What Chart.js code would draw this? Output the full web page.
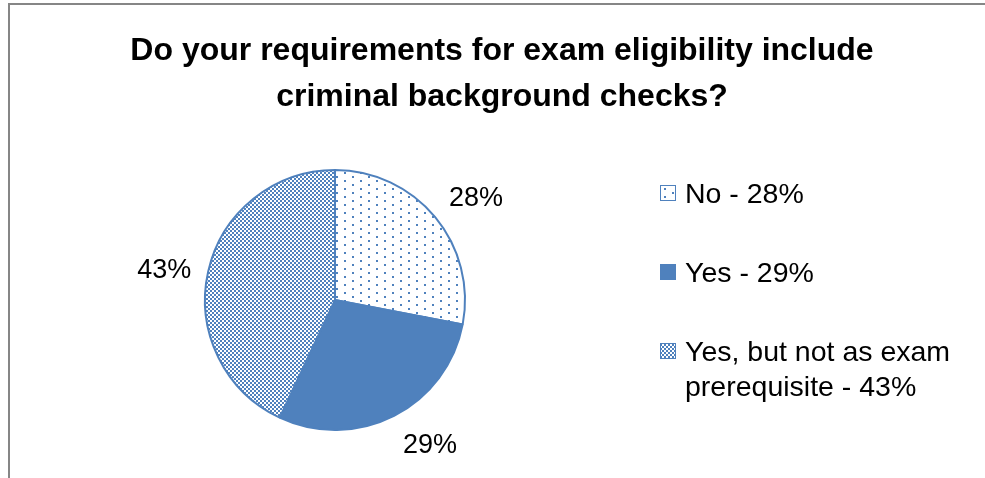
<!DOCTYPE html>
<html>
<head>
<meta charset="utf-8">
<script src="https://cdn.jsdelivr.net/npm/chart.js@4/dist/chart.umd.min.js"></script>
<style>
  html, body { margin: 0; padding: 0; background: #ffffff; }
  #wrap { width: 985px; height: 478px; position: relative; }
</style>
</head>
<body>
<div id="wrap"><canvas id="pie" width="985" height="478"></canvas></div>
<script>
// Survey answers and their shares (percent)
const categories = ['No', 'Yes', 'Yes, but not as exam prerequisite'];
const shares = [28, 29, 43];
const legendLines = [['No - 28%'], ['Yes - 29%'], ['Yes, but not as exam', 'prerequisite - 43%']];
const titleLines = ['Do your requirements for exam eligibility include', 'criminal background checks?'];

const BLUE = '#4f81bd';
const FONT = '"Liberation Sans", Arial, sans-serif';

// Fill patterns: sparse dots, solid, fine checker
function makePattern(kind) {
  const c = document.createElement('canvas');
  const x = c.getContext('2d');
  if (kind === 'dots') {
    c.width = 16; c.height = 8;
    x.fillStyle = '#ffffff'; x.fillRect(0, 0, 16, 8);
    x.fillStyle = BLUE;
    x.fillRect(0, 0, 2, 2);
    x.fillRect(8, 4, 2, 2);
  } else {
    c.width = 4; c.height = 4;
    x.fillStyle = '#ffffff'; x.fillRect(0, 0, 4, 4);
    x.fillStyle = BLUE;
    x.fillRect(0, 0, 2, 2);
    x.fillRect(2, 2, 2, 2);
  }
  return x.createPattern(c, 'repeat');
}
const ctx0 = document.getElementById('pie').getContext('2d');
const fills = [makePattern('dots'), BLUE, makePattern('checker')];

// Frame, title, outside value labels and legend
const decor = {
  id: 'decor',
  beforeDraw(chart) {
    const c = chart.ctx;
    c.save();
    c.fillStyle = '#ffffff';
    c.fillRect(0, 0, chart.width, chart.height);
    c.fillStyle = '#868686';
    c.fillRect(8, 3, chart.width - 8, 2);
    c.fillRect(8, 3, 2, chart.height - 3);
    c.restore();
  },
  afterDraw(chart, args, opts) {
    const c = chart.ctx;
    c.save();
    c.fillStyle = '#000000';
    // title
    c.font = 'bold 32px ' + FONT;
    c.textAlign = 'center';
    c.textBaseline = 'alphabetic';
    titleLines.forEach((t, i) => c.fillText(t, 502, 60 + i * 46));

    // value labels just outside each slice
    const meta = chart.getDatasetMeta(0);
    c.font = '27px ' + FONT;
    c.textBaseline = 'middle';
    meta.data.forEach((arc, i) => {
      const p = arc.getProps(['x', 'y', 'startAngle', 'endAngle', 'outerRadius'], true);
      const mid = (p.startAngle + p.endAngle) / 2;
      const r = p.outerRadius + opts.labelGap;
      const nx = opts.nudge[i][0], ny = opts.nudge[i][1];
      c.fillText(shares[i] + '%', p.x + Math.cos(mid) * r + nx, p.y + Math.sin(mid) * r + ny);
    });

    // legend
    c.textAlign = 'left';
    c.textBaseline = 'alphabetic';
    c.font = '28.5px ' + FONT;
    legendLines.forEach((lines, i) => {
      const cy = opts.legendTop + i * opts.legendStep;
      c.fillStyle = fills[i];
      c.fillRect(660, cy - 8, 16, 16);
      c.strokeStyle = BLUE;
      c.lineWidth = 1;
      c.strokeRect(660.5, cy - 7.5, 15, 15);
      c.fillStyle = '#000000';
      lines.forEach((t, j) => c.fillText(t, 685, cy + 10 + j * 35));
    });
    c.restore();
  }
};

new Chart(ctx0, {
  type: 'pie',
  data: {
    labels: categories,
    datasets: [{
      data: shares,
      backgroundColor: fills,
      borderColor: BLUE,
      borderWidth: 2,
      radius: 130
    }]
  },
  options: {
    responsive: false,
    animation: false,
    layout: { padding: { left: 170, right: 485, top: 135, bottom: 13 } },
    plugins: {
      legend: { display: false },
      title: { display: false },
      tooltip: { enabled: false },
      decor: { labelGap: 44, nudge: [[7, 9], [16, -9], [-1, 9]], legendTop: 193, legendStep: 79 }
    }
  },
  plugins: [decor]
});
</script>
</body>
</html>
